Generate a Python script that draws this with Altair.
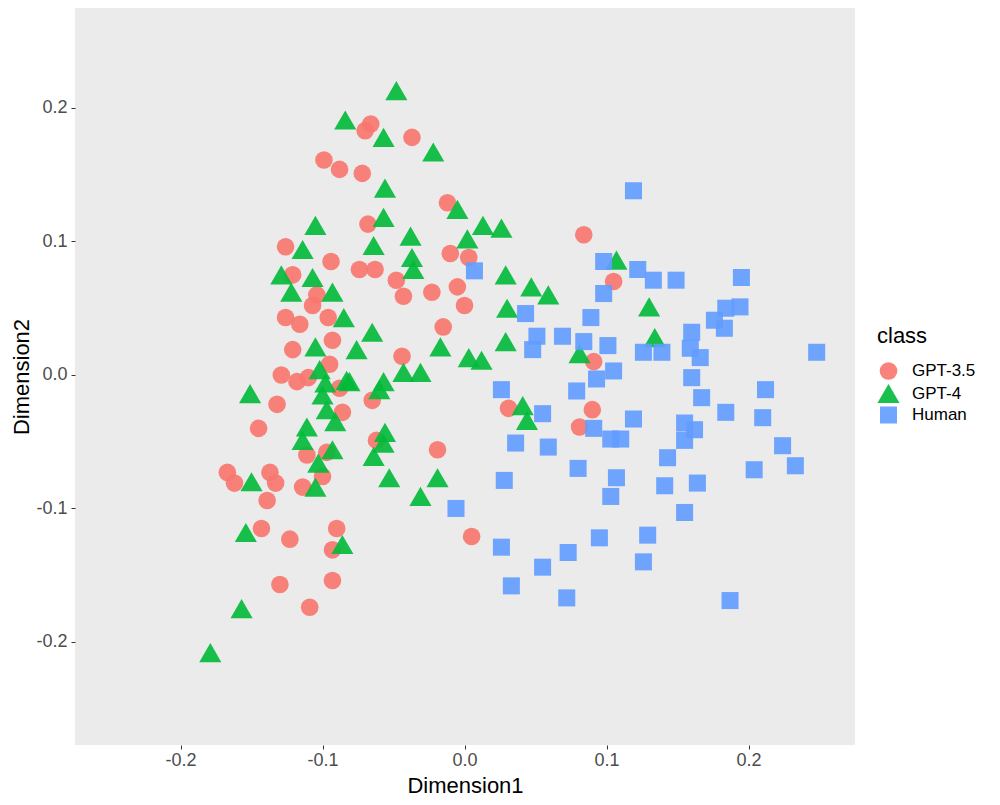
import altair as alt
import pandas as pd

classes = ["GPT-3.5", "GPT-4", "Human"]
colors = ["#F8766D", "#00BA38", "#619CFF"]

gpt35_x = [-0.066, -0.070, -0.037, -0.099, -0.088, -0.072, -0.012, -0.068, -0.126, -0.094,
           -0.010, 0.003, -0.074, -0.063, -0.048, -0.043, -0.023, -0.005, 0.000, -0.015,
           -0.044, -0.104, -0.107, -0.096, -0.126, -0.116, -0.093, -0.121, -0.129, -0.118,
           -0.110, -0.095, -0.088, -0.086, -0.145, -0.132, -0.065, -0.062, -0.019, -0.167,
           -0.162, -0.137, -0.133, -0.139, -0.111, -0.114, -0.100, -0.097, -0.143, -0.123,
           -0.090, -0.093, -0.130, -0.093, -0.109, 0.084, 0.105, 0.091, 0.090, 0.081,
           0.031, 0.005, -0.121]
gpt35_y = [0.188, 0.183, 0.178, 0.161, 0.154, 0.151, 0.129, 0.113, 0.096, 0.085,
           0.091, 0.088, 0.079, 0.079, 0.071, 0.059, 0.062, 0.066, 0.052, 0.036,
           0.014, 0.060, 0.052, 0.043, 0.043, 0.038, 0.026, 0.019, 0.000, -0.005,
           -0.002, 0.008, -0.010, -0.028, -0.040, -0.022, -0.019, -0.049, -0.056, -0.073,
           -0.081, -0.073, -0.081, -0.094, -0.060, -0.084, -0.076, -0.058, -0.115, -0.123,
           -0.115, -0.131, -0.157, -0.154, -0.174, 0.105, 0.070, 0.010, -0.026, -0.039,
           -0.025, -0.121, 0.075]

gpt4_x = [-0.048, -0.084, -0.057, -0.022, -0.056, -0.005, -0.057, -0.105, -0.038, 0.013,
          0.026, 0.002, -0.064, -0.114, -0.037, -0.129, -0.122, -0.107, -0.093, -0.085,
          -0.105, -0.076, -0.065, -0.102, -0.098, -0.083, -0.151, -0.100, -0.097, -0.091,
          -0.111, -0.114, -0.093, -0.103, -0.150, -0.105, -0.064, -0.154, -0.086, -0.157,
          -0.179, -0.053, -0.019, -0.031, -0.057, -0.056, -0.036, 0.029, 0.047, 0.030,
          -0.017, 0.029, 0.003, 0.012, -0.043, -0.031, -0.057, -0.060, -0.081, 0.041,
          0.044, 0.107, 0.059, 0.130, 0.134, 0.081]
gpt4_y = [0.213, 0.191, 0.178, 0.167, 0.140, 0.124, 0.118, 0.112, 0.104, 0.112,
          0.110, 0.102, 0.097, 0.094, 0.088, 0.075, 0.062, 0.073, 0.062, 0.043,
          0.021, 0.019, 0.032, 0.004, -0.006, -0.004, -0.014, -0.015, -0.026, -0.035,
          -0.039, -0.049, -0.056, -0.066, -0.080, -0.084, -0.061, -0.118, -0.127, -0.175,
          -0.208, -0.077, -0.077, -0.091, -0.051, -0.043, 0.079, 0.075, 0.066, 0.050,
          0.021, 0.025, 0.013, 0.011, 0.002, 0.002, -0.005, -0.011, -0.005, -0.023,
          -0.034, 0.086, 0.060, 0.051, 0.028, 0.016]

human_x = [0.119, 0.098, 0.122, 0.133, 0.149, 0.195, 0.098, 0.089, 0.184, 0.194,
           0.176, 0.183, 0.069, 0.084, 0.101, 0.126, 0.139, 0.160, 0.159, 0.166,
           0.007, 0.043, 0.051, 0.048, 0.026, 0.055, 0.036, 0.059, 0.248, 0.105,
           0.093, 0.079, 0.160, 0.167, 0.212, 0.184, 0.210, 0.119, 0.091, 0.103,
           0.110, 0.155, 0.162, 0.155, 0.143, 0.224, 0.233, 0.080, 0.107, 0.103,
           0.204, 0.141, 0.164, 0.155, 0.095, 0.129, 0.073, 0.126, 0.072, 0.187,
           0.028, -0.006, 0.026, 0.055, 0.033]
human_y = [0.138, 0.085, 0.079, 0.071, 0.071, 0.073, 0.061, 0.043, 0.050, 0.051,
           0.041, 0.035, 0.029, 0.025, 0.022, 0.017, 0.017, 0.032, 0.020, 0.013,
           0.078, 0.046, 0.029, 0.019, -0.011, -0.029, -0.051, -0.054, 0.017, 0.003,
           -0.003, -0.012, -0.002, -0.017, -0.011, -0.028, -0.032, -0.033, -0.040, -0.048,
           -0.048, -0.036, -0.041, -0.049, -0.062, -0.053, -0.068, -0.070, -0.077, -0.091,
           -0.071, -0.083, -0.081, -0.103, -0.122, -0.120, -0.133, -0.140, -0.167, -0.169,
           -0.079, -0.100, -0.129, -0.144, -0.158]

rows = []
for cls, xs, ys in [("GPT-3.5", gpt35_x, gpt35_y), ("GPT-4", gpt4_x, gpt4_y), ("Human", human_x, human_y)]:
    for a, b in zip(xs, ys):
        rows.append({"Dimension1": a, "Dimension2": b, "class": cls})
df = pd.DataFrame(rows)

label_expr = "replace(format(datum.value, '.1f'), '\u2212', '-')"

chart = alt.Chart(df).mark_point(filled=True, opacity=0.9, strokeWidth=0).encode(
    x=alt.X("Dimension1:Q",
            scale=alt.Scale(domain=[-0.2743, 0.275], nice=False, zero=False),
            axis=alt.Axis(values=[-0.2, -0.1, 0.0, 0.1, 0.2], labelExpr=label_expr,
                          title="Dimension1", titlePadding=6, labelPadding=2)),
    y=alt.Y("Dimension2:Q",
            scale=alt.Scale(domain=[-0.2772, 0.2749], nice=False, zero=False),
            axis=alt.Axis(values=[-0.2, -0.1, 0.0, 0.1, 0.2], labelExpr=label_expr,
                          title="Dimension2", titlePadding=2, labelPadding=4)),
    color=alt.Color("class:N", scale=alt.Scale(domain=classes, range=colors), title="class"),
    shape=alt.Shape("class:N", scale=alt.Scale(domain=classes, range=["circle", "triangle-up", "square"]), title="class"),
    size=alt.Size("class:N", scale=alt.Scale(type="ordinal", domain=classes, range=[310, 490, 290]), title="class"),
).properties(
    width=780, height=737,
    autosize=alt.AutoSizeParams(type="none"),
    padding={"left": 67, "top": 0, "right": 137, "bottom": 52},
).configure_view(
    fill="#EBEBEB", strokeWidth=0
).configure_axis(
    grid=False, domain=False, tickColor="#333333", tickSize=4, tickWidth=1,
    labelColor="#4D4D4D", labelFontSize=18, labelFont="Liberation Sans",
    titleFont="Liberation Sans", titleFontSize=22, titleFontWeight="normal", titleColor="#000000",
).configure_legend(
    orient="none", legendX=802, legendY=318,
    titleFont="Liberation Sans", titleFontSize=22, titleFontWeight="normal", titleColor="#000000",
    labelFont="Liberation Sans", labelFontSize=17, labelColor="#000000",
    labelOffset=12, rowPadding=2, titlePadding=14, symbolOpacity=0.9, symbolStrokeWidth=0,
)

chart.save("out.html", embed_options={"renderer": "svg", "actions": False})
